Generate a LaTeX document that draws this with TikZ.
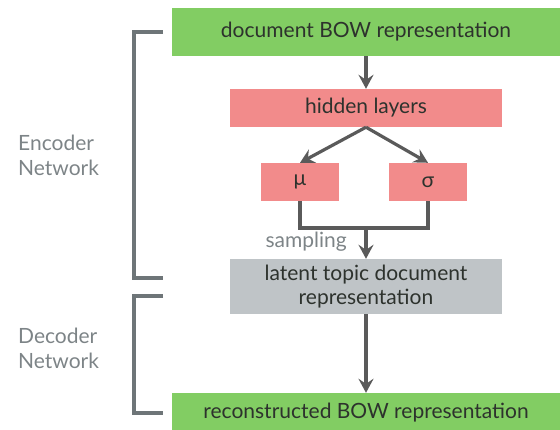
\documentclass[tikz,border=0pt]{standalone}
\usepackage{fontspec}
\setmainfont{Lato}
\usetikzlibrary{arrows.meta,calc}
\definecolor{boxgreen}{RGB}{130,205,99}
\definecolor{boxpink}{RGB}{242,139,139}
\definecolor{boxgray}{RGB}{191,196,199}
\definecolor{arrowgray}{RGB}{90,90,90}
\definecolor{brackgray}{RGB}{110,117,120}
\definecolor{labelgray}{RGB}{125,132,135}
\definecolor{textdark}{RGB}{45,50,45}
\tikzset{
  blk/.style={rectangle, inner sep=0pt, text=textdark, font=\fontsize{21}{24}\selectfont, align=center},
  greenbox/.style={blk, fill=boxgreen},
  pinkbox/.style={blk, fill=boxpink},
  graybox/.style={blk, fill=boxgray},
  conn/.style={draw=arrowgray, line width=3.2pt},
  arr/.style={conn, -{Stealth[length=14pt,width=15pt,inset=5pt]}},
  brack/.style={draw=brackgray, line width=3.2pt},
  netlabel/.style={text=labelgray, font=\fontsize{21}{25}\selectfont, align=left, anchor=west, inner sep=0pt}
}
\begin{document}
\begin{tikzpicture}[x=1pt,y=-1pt]
\useasboundingbox (0,0) rectangle (560,430);
\node[greenbox, minimum width=388pt, minimum height=48pt] (doc) at (366,32) {document BOW representation};
\node[pinkbox, minimum width=272pt, minimum height=38pt] (hid) at (366,108) {hidden layers};
\node[pinkbox, minimum width=78pt, minimum height=38pt] (mu) at (300,182) {μ};
\node[pinkbox, minimum width=78pt, minimum height=38pt] (sig) at (428,182) {σ};
\node[graybox, minimum width=272pt, minimum height=55pt] (lat) at (366,286.5) {latent topic document\\representation};
\node[greenbox, minimum width=388pt, minimum height=40pt] (rec) at (366,413) {reconstructed BOW representation};
\coordinate (join) at (366,228);
\draw[arr] (doc.south) -- (hid.north);
\draw[arr] (hid.south) -- (mu.north);
\draw[arr] (hid.south) -- (sig.north);
\draw[conn] (mu.south) |- (join) -| (sig.south);
\draw[arr] (join) -- (lat.north);
\draw[arr] (lat.south) -- (rec.north);
\node[text=labelgray, font=\fontsize{21}{24}\selectfont, anchor=east, inner sep=0pt] (samp) at (347,242) {sampling};
\draw[brack] (163,32) -- (134,32) -- (134,278) -- (163,278);
\draw[brack] (163,296) -- (134,296) -- (134,413) -- (163,413);
\node[netlabel] (enc) at (18,155) {Encoder\\Network};
\node[netlabel] (dec) at (18,348) {Decoder\\Network};
\end{tikzpicture}
\end{document}
